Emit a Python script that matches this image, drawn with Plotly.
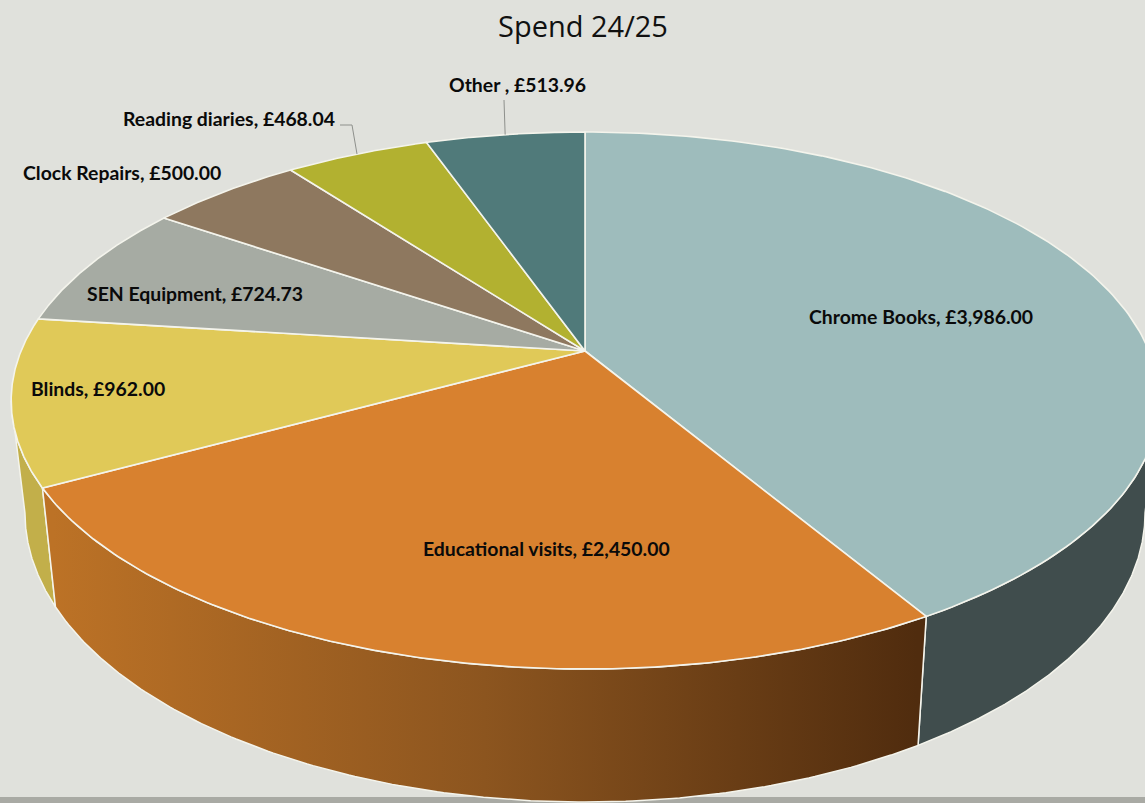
import numpy as np
import plotly.graph_objects as go

# ---- data ----
CATEGORIES = ["Chrome Books", "Educational visits", "Blinds", "SEN Equipment",
              "Clock Repairs", "Reading diaries", "Other "]
VALUES = [3986.00, 2450.00, 962.00, 724.73, 500.00, 468.04, 513.96]
TOP_COLORS = ["#9EBCBC", "#D8812F", "#E0C958", "#A6ABA3", "#8E785F", "#B2B130", "#507A7A"]

# ---- styling / layout of the page ----
W, H = 1145, 803
BG = "#E0E1DC"
BAND = "#A9AAA4"
EDGE = "#F4F4EC"
TEXT_FONT = "Lato"
LABEL_CENTRES = [(921, 316), (546, 548), (98, 388), (195, 293), (122, 172), (229, 118), (517, 84)]
LEADER_ELBOWS = {5: [(340, 125), (352, 125)], 6: [(504, 100)]}

# perspective projection of the pie's disc onto the page
CX, CY = 585.0, 351.0
RX, RY, PERSP = 564.0, 259.4, 0.1844
BASE_SX, BASE_SY, BASE_DY = 0.976, 1.077, 108.5


def top_xy(theta):
    u, v = np.sin(theta), np.cos(theta)
    w = 1 + PERSP * v
    return RX * u / w, -RY * v / w


def project(theta, base=False):
    tx, ty = top_xy(theta)
    if base:
        return CX + BASE_SX * tx, CY + BASE_DY + BASE_SY * ty
    return CX + tx, CY + ty


def arc(a, b, base=False, n=160):
    return project(np.linspace(a, b, n), base)


total = sum(VALUES)
edges = 2 * np.pi * np.concatenate([[0], np.cumsum(VALUES)]) / total
# angles where the disc's outline is widest: the side walls are tangent there
SIDE_R = np.arccos(-PERSP)
SIDE_L = 2 * np.pi - SIDE_R

fig = go.Figure()


def wall(a, b, **kw):
    tx, ty = arc(a, b)
    bx, by = arc(b, a, base=True)
    fig.add_trace(go.Scatter(
        x=np.r_[tx, bx, tx[0]], y=np.r_[ty, by, ty[0]], mode="lines", fill="toself",
        line=dict(color=EDGE, width=1.5), hoverinfo="skip", showlegend=False, **kw))


# outer walls that face the viewer
wall(SIDE_R, edges[1], fillcolor="#404D4D")
wall(edges[2], SIDE_L, fillcolor="#C2AF4A")
wall(edges[1], edges[2], fillgradient=dict(
    type="horizontal", start=CX - 532, stop=CX + 332,
    colorscale=[[0, "#BC7226"], [0.5, "#8C551F"], [1, "#502C0E"]]))

# top faces
for i, name in enumerate(CATEGORIES):
    ax, ay = arc(edges[i], edges[i + 1])
    fig.add_trace(go.Scatter(
        x=np.r_[CX, ax, CX], y=np.r_[CY, ay, CY], mode="lines", fill="toself",
        fillcolor=TOP_COLORS[i], line=dict(color=EDGE, width=1.6),
        name=name, text=f"{name}, £{VALUES[i]:,.2f}", hoverinfo="text", showlegend=False))

# leader lines to the small slices
for i, elbow in LEADER_ELBOWS.items():
    px, py = project((edges[i] + edges[i + 1]) / 2)
    fig.add_trace(go.Scatter(
        x=[p[0] for p in elbow] + [px], y=[p[1] for p in elbow] + [py], mode="lines",
        line=dict(color="#8E908C", width=1), hoverinfo="skip", showlegend=False))

for i, (name, val) in enumerate(zip(CATEGORIES, VALUES)):
    fig.add_annotation(x=LABEL_CENTRES[i][0], y=LABEL_CENTRES[i][1], xref="x", yref="y",
                       text=f"<b>{name}, £{val:,.2f}</b>", showarrow=False,
                       font=dict(family=TEXT_FONT, size=19.4, color="#0A0A0A"))

fig.add_annotation(x=583, y=25, xref="x", yref="y", text="Spend 24/25", showarrow=False,
                   font=dict(family="Open Sans", size=29, color="#111111"))

fig.update_layout(
    width=W, height=H, autosize=False,
    margin=dict(l=0, r=0, t=0, b=0),
    paper_bgcolor=BG, plot_bgcolor=BG,
    xaxis=dict(range=[0, W], visible=False, fixedrange=True),
    yaxis=dict(range=[H, 0], visible=False, fixedrange=True),
    shapes=[dict(type="rect", xref="x", yref="y", x0=0, x1=W, y0=797, y1=H,
                 fillcolor=BAND, line=dict(width=0), layer="below")],
)
fig.write_html("out.html", config=dict(displayModeBar=False),
               post_script="document.body.style.margin='0';document.body.style.overflow='hidden';")
